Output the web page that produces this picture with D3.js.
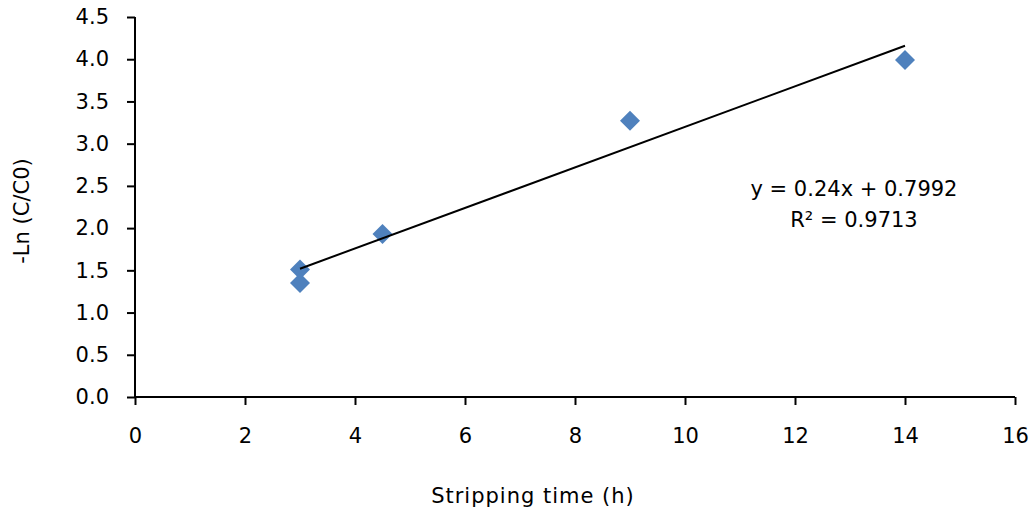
<!DOCTYPE html>
<html><head><meta charset="utf-8">
<script src="https://cdn.jsdelivr.net/npm/d3@7"></script>
<style>body{margin:0;background:#fff;} text{font-family:"DejaVu Sans",sans-serif;fill:#000;}</style>
</head><body>
<svg id="c" width="1034" height="516"></svg>
<script>
const xValues = [3, 3, 4.5, 9, 14];
const yValues = [1.51, 1.35, 1.93, 3.27, 3.99];
const xTicks = [0, 2, 4, 6, 8, 10, 12, 14, 16];
const yTicks = [0, 0.5, 1, 1.5, 2, 2.5, 3, 3.5, 4, 4.5];
const slope = 0.24, intercept = 0.7992, r2 = 0.9713;
const trendRange = [3, 14];

(function () {
const svg = d3.select("#c");
const pl = 135, pr = 1015, pt = 17, pb = 397;
const fs = "21px";
const x = d3.scaleLinear().domain([0, 16]).range([pl, pr]);
const y = d3.scaleLinear().domain([0, 4.5]).range([pb, pt]);

const gx = svg.append("g").attr("transform", `translate(0,${pb})`)
  .call(d3.axisBottom(x).tickValues(xTicks).tickFormat(d3.format("d")).tickSize(8).tickPadding(23));
const gy = svg.append("g").attr("transform", `translate(${pl},0)`)
  .call(d3.axisLeft(y).tickValues(yTicks).tickFormat(d3.format(".1f")).tickSize(8).tickPadding(18));
[gx, gy].forEach(g => {
  g.select(".domain").attr("stroke", "#000").attr("stroke-width", 2);
  g.selectAll(".tick line").attr("stroke", "#000").attr("stroke-width", 2);
  g.selectAll(".tick text").style("font-size", fs).attr("font-family", "DejaVu Sans, sans-serif");
});
gx.select(".domain").attr("d", `M${pl},0H${pr}`);
gy.select(".domain").attr("d", `M0,${pb}V${pt}`);

svg.selectAll("path.pt").data(xValues.map((d, i) => [d, yValues[i]])).enter()
  .append("path").attr("class", "pt")
  .attr("d", d3.symbol().type(d3.symbolSquare).size(200))
  .attr("transform", d => `translate(${x(d[0])},${y(d[1])}) rotate(45)`)
  .attr("fill", "#4F81BD");

svg.append("line")
  .attr("x1", x(trendRange[0])).attr("y1", y(slope * trendRange[0] + intercept))
  .attr("x2", x(trendRange[1])).attr("y2", y(slope * trendRange[1] + intercept))
  .attr("stroke", "#000").attr("stroke-width", 2);

svg.append("text").attr("x", 854).attr("y", 196).attr("text-anchor", "middle")
  .style("font-size", fs).text(`y = ${slope}x + ${intercept}`);
svg.append("text").attr("x", 854).attr("y", 227).attr("text-anchor", "middle")
  .style("font-size", fs).text(`R² = ${r2}`);

svg.append("text").attr("x", 533).attr("y", 503).attr("text-anchor", "middle")
  .style("font-size", fs).style("letter-spacing", "1px").text("Stripping time (h)");
svg.append("text").attr("transform", "translate(29,211) rotate(-90)").attr("text-anchor", "middle")
  .style("font-size", fs).text("-Ln (C/C0)");
})();
</script>
</body></html>
